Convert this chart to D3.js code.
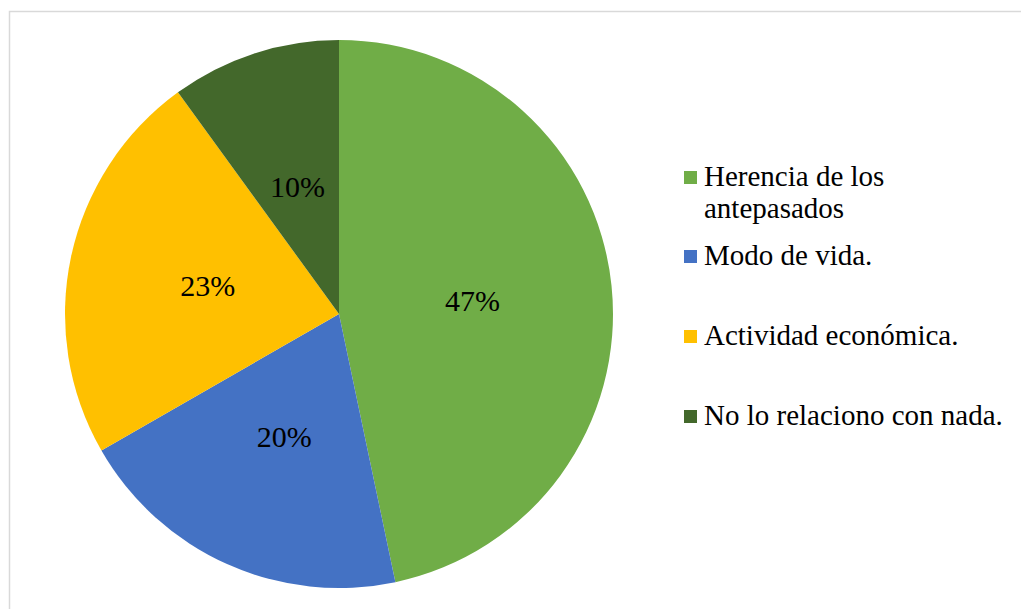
<!DOCTYPE html>
<html>
<head>
<meta charset="utf-8">
<script src="https://cdn.jsdelivr.net/npm/d3@7"></script>
<style>
  body { margin: 0; background: #fff; }
  svg { display: block; }
</style>
</head>
<body>
<div id="canvas"></div>
<script>
/* DATA */
const categories = ["Herencia de los antepasados", "Modo de vida.", "Actividad económica.", "No lo relaciono con nada."];
const values = [46.7, 20.0, 23.3, 10.0];
const labels = ["47%", "20%", "23%", "10%"];
const colors = ["#70AD47", "#4472C4", "#FFC000", "#43682B"];
// legend text split into lines like in the picture
const legendLines = [["Herencia de los", "antepasados"], ["Modo de vida."], ["Actividad económica."], ["No lo relaciono con nada."]];

/* CANVAS */
const width = 1021;
const height = 609;

const svg = d3.select("#canvas")
    .append("svg")
    .attr("width", width)
    .attr("height", height);

// chart area border
svg.append("rect")
    .attr("x", 9.5)
    .attr("y", 11.5)
    .attr("width", width + 20)
    .attr("height", height + 20)
    .attr("fill", "#fff")
    .attr("stroke", "#d9d9d9")
    .attr("stroke-width", 1.5);

/* PIE */
const cx = 339, cy = 314, radius = 274;

const pie = d3.pie().sort(null).value(d => d);
const arcs = pie(values);

const arc = d3.arc().innerRadius(0).outerRadius(radius);
const labelArc = d3.arc().innerRadius(radius * 0.49).outerRadius(radius * 0.49);

const g = svg.append("g").attr("transform", `translate(${cx},${cy})`);

g.selectAll("path")
    .data(arcs)
    .join("path")
    .attr("d", arc)
    .attr("fill", (d, i) => colors[i]);

g.selectAll("text")
    .data(arcs)
    .join("text")
    .attr("transform", d => `translate(${labelArc.centroid(d)})`)
    .attr("text-anchor", "middle")
    .attr("dy", "0.35em")
    .attr("font-family", "'Liberation Serif', 'Times New Roman', serif")
    .attr("font-size", 30)
    .attr("fill", "#000")
    .text((d, i) => labels[i]);

/* LEGEND */
const legendY = [186, 265, 345, 425];   // baseline of first line
const legend = svg.append("g");

categories.forEach(function(c, i) {
    legend.append("rect")
        .attr("x", 684)
        .attr("y", legendY[i] - 15)
        .attr("width", 13)
        .attr("height", 13)
        .attr("fill", colors[i]);

    const t = legend.append("text")
        .attr("x", 704)
        .attr("y", legendY[i])
        .attr("font-family", "'Liberation Serif', 'Times New Roman', serif")
        .attr("font-size", 29)
        .attr("fill", "#000");

    legendLines[i].forEach(function(line, j) {
        t.append("tspan")
            .attr("x", 704)
            .attr("y", legendY[i] + j * 32)
            .text(line);
    });
});
</script>
</body>
</html>
